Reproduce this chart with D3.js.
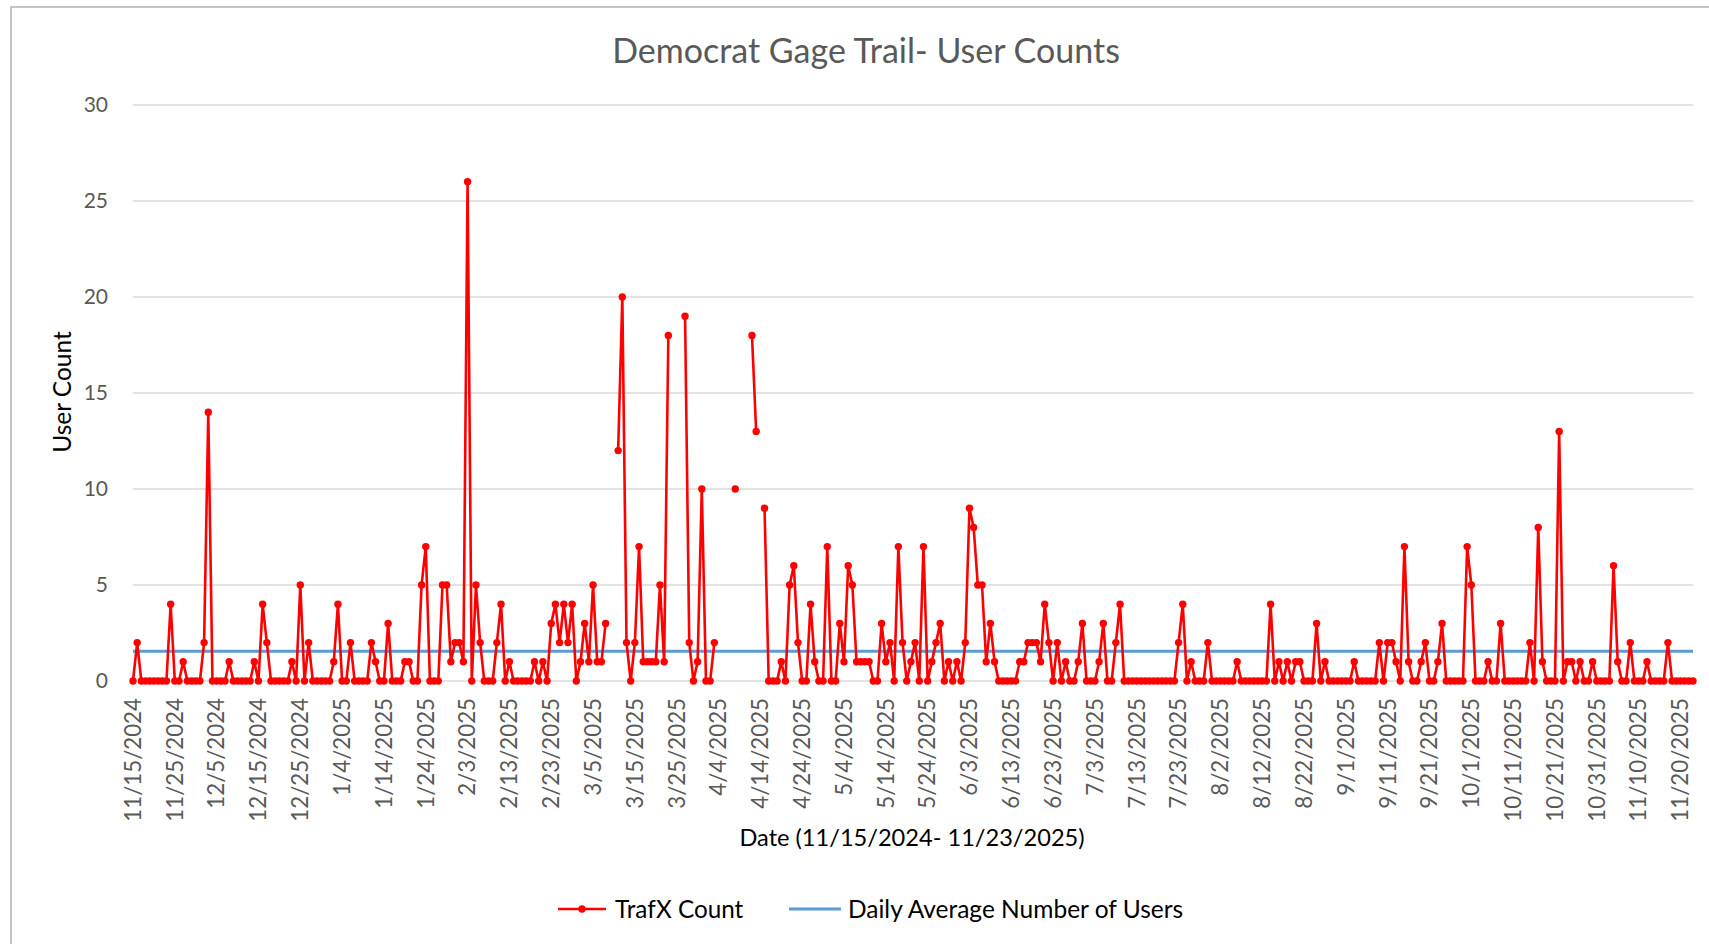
<!DOCTYPE html>
<meta charset='utf-8'>
<style>
	body { margin: 0; background: #fff; }
	text { font-family: Lato, 'Open Sans', sans-serif; }
	.grid line { stroke: #d9d9d9; stroke-width: 1.3px; }
	.tick-y { fill: #595959; font-size: 21px; text-anchor: end; }
	.tick-x { fill: #595959; font-size: 22.3px; text-anchor: end; }
</style>
<body>
<script src='https://cdnjs.cloudflare.com/ajax/libs/d3/7.8.5/d3.min.js'></script>
<script type='text/javascript'>
	// daily TrafX counts starting 11/15/2024, null = no reading
	var startDate = '2024-11-15';
	var counts = [
		0,2,0,0,0,0,0,0,0,4,  0,0,1,0,0,0,0,2,14,0,
		0,0,0,1,0,0,0,0,0,1,  0,4,2,0,0,0,0,0,1,0,
		5,0,2,0,0,0,0,0,1,4,  0,0,2,0,0,0,0,2,1,0,
		0,3,0,0,0,1,1,0,0,5,  7,0,0,0,5,5,1,2,2,1,
		26,0,5,2,0,0,0,2,4,0, 1,0,0,0,0,0,1,0,1,0,
		3,4,2,4,2,4,0,1,3,1,  5,1,1,3,null,null,12,20,2,0,
		2,7,1,1,1,1,5,1,18,null,  null,null,19,2,0,1,10,0,0,2,
		null,null,null,null,10,null,null,null,18,13,  null,9,0,0,0,1,0,5,6,2,
		0,0,4,1,0,0,7,0,0,3,  1,6,5,1,1,1,1,0,0,3,
		1,2,0,7,2,0,1,2,0,7,  0,1,2,3,0,1,0,1,0,2,
		9,8,5,5,1,3,1,0,0,0,  0,0,1,1,2,2,2,1,4,2,
		0,2,0,1,0,0,1,3,0,0,  0,1,3,0,0,2,4,0,0,0,
		0,0,0,0,0,0,0,0,0,0,  2,4,0,1,0,0,0,2,0,0,
		0,0,0,0,1,0,0,0,0,0,  0,0,4,0,1,0,1,0,1,1,
		0,0,0,3,0,1,0,0,0,0,  0,0,1,0,0,0,0,0,2,0,
		2,2,1,0,7,1,0,0,1,2,  0,0,1,3,0,0,0,0,0,7,
		5,0,0,0,1,0,0,3,0,0,  0,0,0,0,2,0,8,1,0,0,
		0,13,0,1,1,0,1,0,0,1, 0,0,0,0,6,1,0,0,2,0,
		0,0,1,0,0,0,0,2,0,0,  0,0,0,0
	];
	var dailyAverage = 1.55;
	var yTicks = [0, 5, 10, 15, 20, 25, 30];
	var xTickLabels = ['11/15/2024','11/25/2024','12/5/2024','12/15/2024','12/25/2024',
		'1/4/2025','1/14/2025','1/24/2025','2/3/2025','2/13/2025','2/23/2025','3/5/2025',
		'3/15/2025','3/25/2025','4/4/2025','4/14/2025','4/24/2025','5/4/2025','5/14/2025',
		'5/24/2025','6/3/2025','6/13/2025','6/23/2025','7/3/2025','7/13/2025','7/23/2025',
		'8/2/2025','8/12/2025','8/22/2025','9/1/2025','9/11/2025','9/21/2025','10/1/2025',
		'10/11/2025','10/21/2025','10/31/2025','11/10/2025','11/20/2025'];

	var svgW = 1709, svgH = 944;
	var plot = {left: 133, right: 1693, top: 105, bottom: 681};

	var parseISO = d3.timeParse('%Y-%m-%d');
	var parseMDY = d3.timeParse('%m/%d/%Y');
	var start = parseISO(startDate);
	var data = counts.map(function (v, i) { return {date: d3.timeDay.offset(start, i), v: v}; });

	var x = d3.scaleTime()
		.domain([start, data[data.length - 1].date])
		.range([plot.left, plot.right]);
	var y = d3.scaleLinear().domain([0, 30]).range([plot.bottom, plot.top]);

	var svg = d3.select('body').append('svg').attr('width', svgW).attr('height', svgH);

	svg.append('rect').attr('x', 11).attr('y', 7).attr('width', svgW).attr('height', svgH)
		.attr('fill', '#fff').attr('stroke', '#b3b3b3').attr('stroke-width', 1.5);

	svg.append('text').attr('x', 866).attr('y', 63)
		.attr('text-anchor', 'middle').attr('fill', '#595959').attr('font-size', 34)
		.text('Democrat Gage Trail- User Counts');

	// gridlines
	svg.append('g').attr('class', 'grid').selectAll('line').data(yTicks).enter().append('line')
		.attr('x1', plot.left).attr('x2', plot.right)
		.attr('y1', function (d) { return y(d); }).attr('y2', function (d) { return y(d); });

	svg.append('g').selectAll('text').data(yTicks).enter().append('text')
		.attr('class', 'tick-y')
		.attr('x', 108).attr('y', function (d) { return y(d); }).attr('dy', '0.35em')
		.text(function (d) { return d; });

	svg.append('g').selectAll('text').data(xTickLabels).enter().append('text')
		.attr('class', 'tick-x')
		.attr('transform', function (d) { return 'translate(' + x(parseMDY(d)) + ',698) rotate(-90)'; })
		.attr('dy', '0.35em')
		.text(function (d) { return d; });

	svg.append('text').attr('transform', 'translate(62,392) rotate(-90)')
		.attr('text-anchor', 'middle').attr('dy', '0.35em').attr('font-size', 24.5).attr('fill', '#000')
		.text('User Count');

	svg.append('text').attr('x', 912).attr('y', 838).attr('dy', '0.35em')
		.attr('text-anchor', 'middle').attr('font-size', 23.6).attr('fill', '#000')
		.text('Date (11/15/2024- 11/23/2025)');

	// average line
	svg.append('line')
		.attr('x1', plot.left).attr('x2', plot.right)
		.attr('y1', y(dailyAverage)).attr('y2', y(dailyAverage))
		.attr('stroke', '#5b9bd5').attr('stroke-width', 2.8);

	var line = d3.line()
		.defined(function (d) { return d.v !== null; })
		.x(function (d) { return x(d.date); })
		.y(function (d) { return y(d.v); });

	svg.append('path').datum(data).attr('d', line)
		.attr('fill', 'none').attr('stroke', '#ff0000').attr('stroke-width', 2.6)
		.attr('stroke-linejoin', 'round');

	svg.append('g').selectAll('circle')
		.data(data.filter(function (d) { return d.v !== null; }))
		.enter().append('circle')
		.attr('cx', function (d) { return x(d.date); })
		.attr('cy', function (d) { return y(d.v); })
		.attr('r', 3.7).attr('fill', '#ff0000');

	// legend
	var lg = svg.append('g');
	lg.append('line').attr('x1', 558).attr('x2', 606).attr('y1', 909).attr('y2', 909)
		.attr('stroke', '#ff0000').attr('stroke-width', 2.6);
	lg.append('circle').attr('cx', 582).attr('cy', 909).attr('r', 3.7).attr('fill', '#ff0000');
	lg.append('text').attr('x', 615).attr('y', 909).attr('dy', '0.35em')
		.attr('font-size', 24.3).attr('fill', '#000').text('TrafX Count');
	lg.append('line').attr('x1', 789).attr('x2', 841).attr('y1', 909).attr('y2', 909)
		.attr('stroke', '#5b9bd5').attr('stroke-width', 2.8);
	lg.append('text').attr('x', 848).attr('y', 909).attr('dy', '0.35em')
		.attr('font-size', 24.5).attr('fill', '#000').text('Daily Average Number of Users');
</script>
</body>
